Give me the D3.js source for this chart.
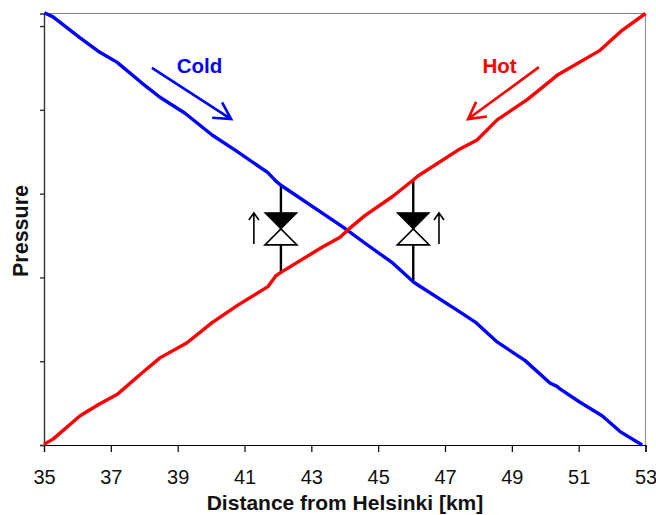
<!DOCTYPE html>
<html><head><meta charset="utf-8">
<style>html,body{margin:0;padding:0;background:#fff}svg{display:block}text{font-family:"Liberation Sans",Arial,sans-serif}</style>
<script src="https://cdn.jsdelivr.net/npm/d3@7"></script></head><body>
<script>
const xTicks=[35,37,39,41,43,45,47,49,51,53];
const yTicks=[0,1,2,3,4,5];
const coldX=[35.01,35.27,36.08,36.62,37.18,37.93,38.47,39.22,40.03,40.72,41.70,41.94,42.09,43.95,44.67,45.41,46.04,46.19,47.36,47.93,48.56,49.39,50.14,50.35,50.44,51.04,51.70,52.24,52.90];
const coldP=[5.16,5.11,4.86,4.70,4.57,4.32,4.15,3.96,3.70,3.52,3.25,3.15,3.10,2.60,2.39,2.18,1.95,1.91,1.61,1.46,1.23,1.01,0.74,0.70,0.67,0.51,0.35,0.16,0];
const hotX=[35,35.27,36.08,36.62,37.21,37.93,38.47,39.28,40.03,40.8,41.70,41.94,42.09,43.32,43.86,44.10,44.61,45.41,46.04,46.19,47.39,47.96,48.56,49.45,50.20,50.38,51.64,52.30,53];
const hotP=[0.01,0.07,0.35,0.48,0.61,0.86,1.04,1.22,1.46,1.67,1.89,2.02,2.06,2.36,2.48,2.57,2.74,2.96,3.16,3.21,3.52,3.64,3.88,4.12,4.36,4.42,4.71,4.95,5.15];
const valveX=[42.09,46.05];
const valveTop=[3.10,3.16];
const valveBottom=[2.06,1.95];
const valveCentre=2.58;
const smallArrowX=[41.28,46.82];
const smallArrowFrom=2.40, smallArrowTo=2.77;

const W=656,H=515;
const x=d3.scaleLinear().domain([35,53]).range([44,645.5]);
const y=d3.scaleLinear().domain([0,5.15]).range([445,13.5]);
const svg=d3.select("body").append("svg").attr("width",W).attr("height",H);

svg.append("line").attr("x1",x(35)).attr("x2",x(53)).attr("y1",y(5.15)).attr("y2",y(5.15)).attr("stroke","#808080").attr("stroke-width",1.2);
svg.append("line").attr("x1",x(53)).attr("x2",x(53)).attr("y1",y(5.15)).attr("y2",y(0)).attr("stroke","#999").attr("stroke-width",1.2);

const ax=svg.append("g").attr("transform",`translate(0,${y(0)})`)
  .call(d3.axisBottom(x).tickValues(xTicks).tickSize(7).tickPadding(18).tickFormat(d3.format("d")));
ax.selectAll("text").attr("font-size",20).attr("fill","#111").style("font-family",'"Liberation Sans",Arial,sans-serif');
ax.selectAll("line,path").attr("stroke","#000").attr("stroke-width",1.2);
const ay=svg.append("g").attr("transform",`translate(${x(35)},0)`)
  .call(d3.axisLeft(y).tickValues(yTicks).tickSize(4).tickFormat(""));
ay.selectAll("line,path").attr("stroke","#333").attr("stroke-width",1.4);

svg.append("text").attr("x",345).attr("y",510).attr("text-anchor","middle").attr("font-size",21).attr("font-weight","bold").attr("fill","#111").text("Distance from Helsinki [km]");
svg.append("text").attr("transform","translate(27.5,231) rotate(-90)").attr("text-anchor","middle").attr("font-size",21.5).attr("font-weight","bold").attr("fill","#111").text("Pressure");

valveX.forEach((v,i)=>{
  svg.append("line").attr("x1",x(v)).attr("x2",x(v)).attr("y1",y(valveTop[i])).attr("y2",y(valveBottom[i])).attr("stroke","#000").attr("stroke-width",2.4);
  const cx=x(v),cy=y(valveCentre),a=16,b=16;
  svg.append("path").attr("d",`M${cx-a},${cy-b}L${cx+a},${cy-b}L${cx},${cy}Z`).attr("fill","#000").attr("stroke","#000").attr("stroke-width",1.2);
  svg.append("path").attr("d",`M${cx-a},${cy+b}L${cx+a},${cy+b}L${cx},${cy}Z`).attr("fill","#fff").attr("stroke","#000").attr("stroke-width",1.6);
});
smallArrowX.forEach(v=>{
  const px=x(v),a=y(smallArrowFrom),b=y(smallArrowTo);
  svg.append("path").attr("d",`M${px},${a}L${px},${b}M${px-5},${b+7}L${px},${b}L${px+5},${b+7}`).attr("fill","none").attr("stroke","#000").attr("stroke-width",1.6);
});

const line=d3.line().x(d=>x(d[0])).y(d=>y(d[1]));
svg.append("path").datum(d3.zip(coldX,coldP)).attr("d",line).attr("fill","none").attr("stroke","#0000ff").attr("stroke-width",3.4).attr("stroke-linejoin","round");
svg.append("path").datum(d3.zip(hotX,hotP)).attr("d",line).attr("fill","none").attr("stroke","#ff0000").attr("stroke-width",3.4).attr("stroke-linejoin","round");

function arrow(x0,p0,x1,p1,col){
  const ax0=x(x0),ay0=y(p0),ax1=x(x1),ay1=y(p1);
  const t=Math.atan2(ay1-ay0,ax1-ax0),L=19,s=0.5;
  const h=o=>[ax1-L*Math.cos(t+o),ay1-L*Math.sin(t+o)];
  const [a,b]=[h(s),h(-s)];
  svg.append("path").attr("d",`M${ax0},${ay0}L${ax1},${ay1}M${a[0]},${a[1]}L${ax1},${ay1}L${b[0]},${b[1]}`).attr("fill","none").attr("stroke",col).attr("stroke-width",2.6);
}
arrow(38.23,4.50,40.60,3.89,"#0000ff");
arrow(49.81,4.51,47.69,3.89,"#ff0000");
svg.append("text").attr("x",199.5).attr("y",73).attr("text-anchor","middle").attr("font-size",20.5).attr("font-weight","bold").attr("fill","#0000ff").text("Cold");
svg.append("text").attr("x",499.5).attr("y",73).attr("text-anchor","middle").attr("font-size",20.5).attr("font-weight","bold").attr("fill","#ff0000").text("Hot");
</script></body></html>
